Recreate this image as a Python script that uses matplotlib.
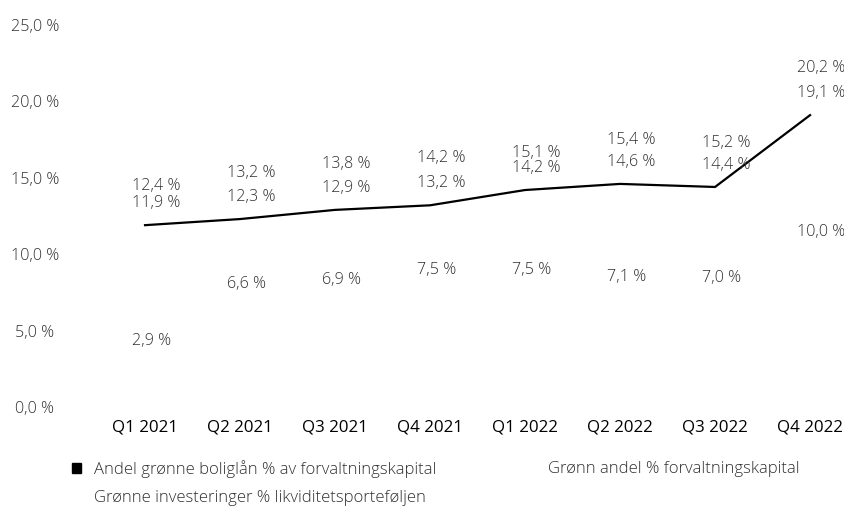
"""
Green share figures per quarter, 2021-2022.
"""

import matplotlib
matplotlib.use("Agg")

import matplotlib.pyplot as plt
from matplotlib.patches import Patch
from matplotlib.lines import Line2D

plt.rcParams["font.family"] = ["Open Sans", "DejaVu Sans"]

# ----------------------------------------------------
# Data
# ----------------------------------------------------

quarters = [
    "Q1 2021", "Q2 2021", "Q3 2021", "Q4 2021",
    "Q1 2022", "Q2 2022", "Q3 2022", "Q4 2022",
]

green_mortgages = [12.4, 13.2, 13.8, 14.2, 15.1, 15.4, 15.2, 20.2]
green_share = [11.9, 12.3, 12.9, 13.2, 14.2, 14.6, 14.4, 19.1]
green_investments = [2.9, 6.6, 6.9, 7.5, 7.5, 7.1, 7.0, 10.0]

yticks = [0, 5, 10, 15, 20, 25]

label_mortgages = "Andel grønne boliglån % av forvaltningskapital"
label_share = "Grønn andel % forvaltningskapital"
label_investments = "Grønne investeringer % likviditetsporteføljen"

# label lift above each value, in pixels
mortgage_lift = [32, 32, 32, 32, 23, 32, 32, 30]
other_lift = 22

TEXT = "#303030"
SMALL = 11.6


def pct(v):
    return f"{v:.1f} %".replace(".", ",")


# ----------------------------------------------------
# Figure
# ----------------------------------------------------

fig = plt.figure(figsize=(8.45, 5.07), dpi=100)
ax = fig.add_axes([100 / 845, 100 / 507, 745 / 845, 382 / 507])

x = list(range(len(quarters)))

# mortgage series has no visible mark, only its labels
ax.bar(x, green_mortgages, width=0.5, color="none", edgecolor="none")

ax.plot(x, green_share, color="black", linewidth=1.6, solid_joinstyle="miter")

ax.plot(x, green_investments, linestyle="none", marker="none")

ax.set_xlim(-0.474, 7.368)
ax.set_ylim(0, 25)

# ----------------------------------------------------
# Data labels
# ----------------------------------------------------

px_to_pt = 72 / fig.dpi
shift_x = -13 * px_to_pt

label_style = dict(textcoords="offset points", ha="left", va="center",
                   fontsize=SMALL, fontweight="light", color=TEXT)

for i in x:
    ax.annotate(pct(green_share[i]), (i, green_share[i]),
                xytext=(shift_x, other_lift * px_to_pt), **label_style)

    ax.annotate(pct(green_mortgages[i]), (i, green_mortgages[i]),
                xytext=(shift_x, mortgage_lift[i] * px_to_pt), **label_style)

    ax.annotate(pct(green_investments[i]), (i, green_investments[i]),
                xytext=(shift_x, other_lift * px_to_pt), **label_style)

# ----------------------------------------------------
# Axes styling
# ----------------------------------------------------

for side in ["top", "right", "left", "bottom"]:
    ax.spines[side].set_visible(False)

ax.set_xticks(x)
ax.set_xticklabels(quarters, fontsize=12.2, color="black")
ax.tick_params(axis="x", length=0, pad=9)

ax.set_yticks(yticks)
ax.set_yticklabels([pct(v) for v in yticks], fontsize=SMALL,
                   fontweight="light", color=TEXT, ha="center")
ax.tick_params(axis="y", length=0, pad=47)

# ----------------------------------------------------
# Legend
# ----------------------------------------------------

legend_font = {"size": 12, "weight": "light"}

legend_common = dict(
    loc="center left",
    frameon=False,
    prop=legend_font,
    labelcolor=TEXT,
    borderpad=0,
    borderaxespad=0,
)

fig.legend(
    [Patch(facecolor="black", edgecolor="black")],
    [label_mortgages],
    bbox_to_anchor=(72 / 845, 1 - 469 / 507),
    handlelength=0.55,
    handleheight=0.55,
    handletextpad=0.8,
    **legend_common,
)

fig.legend(
    [Line2D([], [], linestyle="none")],
    [label_share],
    bbox_to_anchor=(548 / 845, 1 - 469 / 507),
    handlelength=0,
    handletextpad=0,
    **legend_common,
)

fig.legend(
    [Line2D([], [], linestyle="none")],
    [label_investments],
    bbox_to_anchor=(94 / 845, 1 - 498 / 507),
    handlelength=0,
    handletextpad=0,
    **legend_common,
)

fig.savefig("out.png", dpi=100)
